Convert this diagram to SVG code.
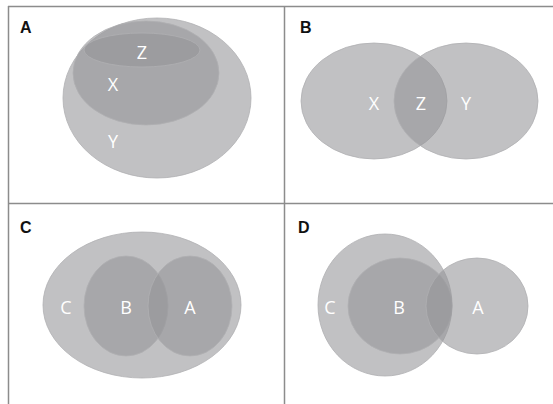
<svg xmlns="http://www.w3.org/2000/svg" width="553" height="404" viewBox="0 0 553 404">
<style>
.frame{stroke:#8c8c8c;stroke-width:1.5;fill:none}
.set{fill:#959597;fill-opacity:0.58;stroke:#b0b0b2;stroke-width:0.8}
.lbl{font-family:"Open Sans","Liberation Sans",sans-serif;font-size:18px;fill:#ffffff;text-anchor:middle}
.pnl{font-family:"Liberation Sans",Arial,sans-serif;font-size:16px;font-weight:bold;fill:#111111}
</style>
<rect width="553" height="404" fill="#ffffff"/>
<g id="frame">
<line class="frame" x1="8" y1="6.5" x2="553" y2="6.5"/>
<line class="frame" x1="8.5" y1="6" x2="8.5" y2="404"/>
<line class="frame" x1="284.5" y1="6" x2="284.5" y2="404"/>
<line class="frame" x1="8" y1="203.5" x2="553" y2="203.5"/>
</g>
<g id="panelA">
<text class="pnl" x="20" y="33">A</text>
<g id="A-Y"><ellipse class="set" cx="157" cy="98" rx="94" ry="80"/></g>
<g id="A-X"><ellipse class="set" cx="146" cy="73" rx="73" ry="52"/></g>
<g id="A-Z"><ellipse class="set" cx="142" cy="50" rx="58" ry="17"/></g>
<text class="lbl" x="142" y="59">Z</text>
<text class="lbl" x="113" y="91">X</text>
<text class="lbl" x="113" y="148">Y</text>
</g>
<g id="panelB">
<text class="pnl" x="300" y="33">B</text>
<g id="B-X"><ellipse class="set" cx="374" cy="101" rx="73" ry="58"/></g>
<g id="B-Y"><ellipse class="set" cx="466" cy="101" rx="72" ry="58"/></g>
<text class="lbl" x="374" y="110">X</text>
<text class="lbl" x="421" y="110">Z</text>
<text class="lbl" x="466" y="110">Y</text>
</g>
<g id="panelC">
<text class="pnl" x="20" y="233">C</text>
<g id="C-C"><ellipse class="set" cx="142" cy="305" rx="99" ry="73"/></g>
<g id="C-B"><ellipse class="set" cx="126" cy="306" rx="42" ry="50"/></g>
<g id="C-A"><ellipse class="set" cx="190" cy="306" rx="42" ry="50"/></g>
<text class="lbl" x="66" y="314">C</text>
<text class="lbl" x="126" y="314">B</text>
<text class="lbl" x="190" y="314">A</text>
</g>
<g id="panelD">
<text class="pnl" x="298" y="233">D</text>
<g id="D-C"><ellipse class="set" cx="385" cy="305" rx="67" ry="71"/></g>
<g id="D-B"><ellipse class="set" cx="400" cy="306" rx="52" ry="48"/></g>
<g id="D-A"><ellipse class="set" cx="477" cy="306" rx="51" ry="48"/></g>
<text class="lbl" x="330" y="314">C</text>
<text class="lbl" x="399" y="314">B</text>
<text class="lbl" x="478" y="314">A</text>
</g>
</svg>
